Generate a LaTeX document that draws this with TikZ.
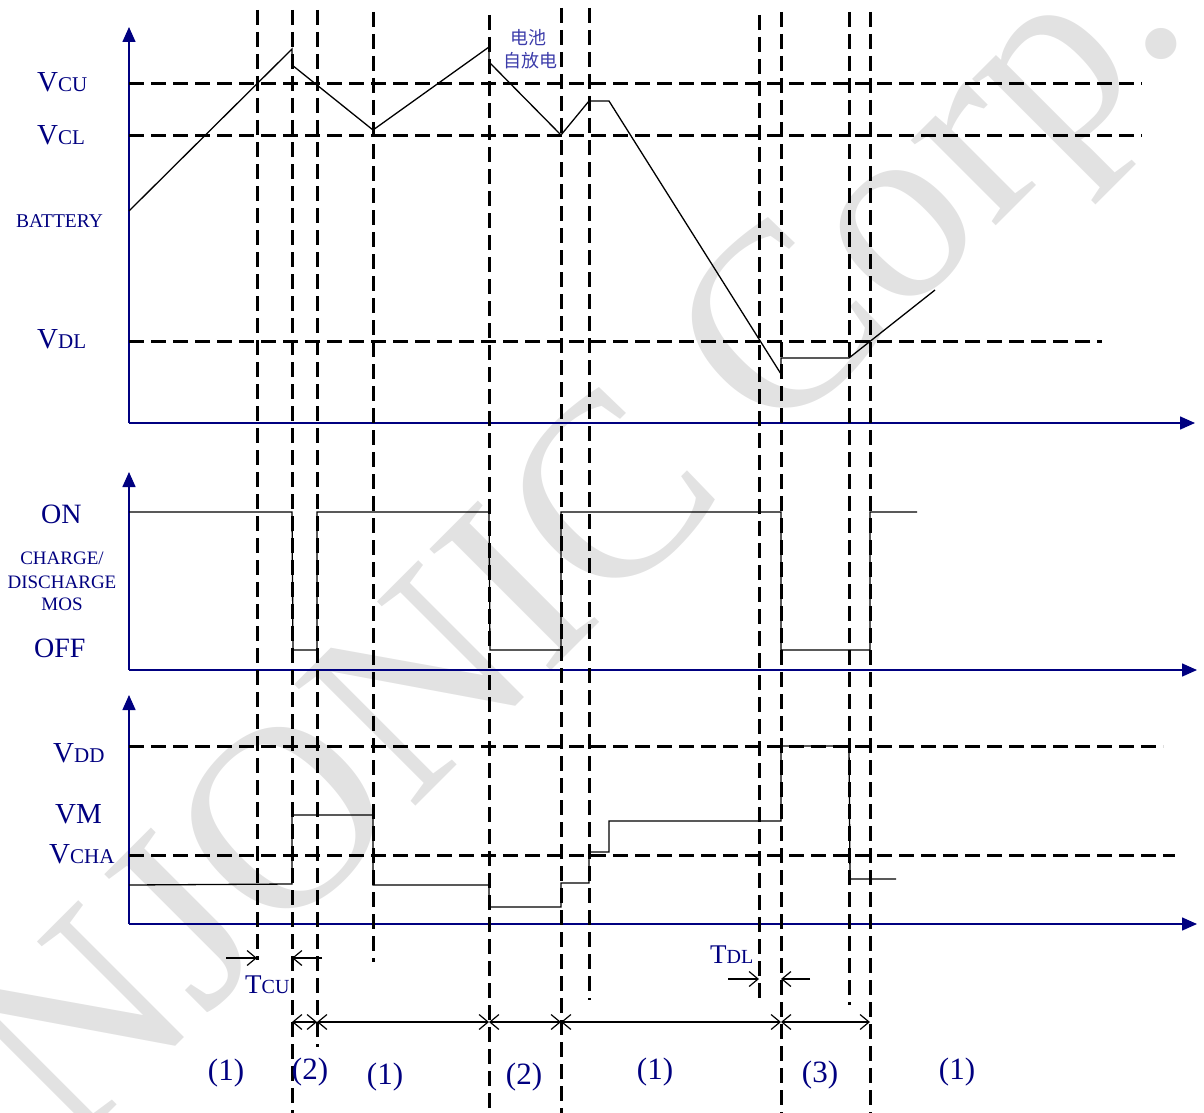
\documentclass[tikz,border=0pt]{standalone}
\usepackage{fontspec}
\setmainfont{Liberation Serif}
\newfontfamily\cjk{Noto Sans CJK SC}
\usetikzlibrary{arrows.meta}
\definecolor{lbl}{RGB}{0,0,128}
\definecolor{cn}{RGB}{60,60,170}
\definecolor{wm}{RGB}{226,226,226}
\newcommand\bigsmall[2]{{\fontsize{29}{30}\selectfont #1}{\fontsize{21}{22}\selectfont #2}}
\newcommand\tsmall[2]{{\fontsize{27}{28}\selectfont #1}{\fontsize{20}{21}\selectfont #2}}
\begin{document}
\begin{tikzpicture}[x=1pt,y=-1pt,
  axis/.style={draw=lbl, line width=1.5pt, -{Triangle[length=15pt,width=13pt]}},
  dline/.style={line width=3pt, dash pattern=on 15pt off 7pt},
  wave/.style={line width=1.3pt, line join=miter},
  lab/.style={text=lbl, inner sep=0pt, anchor=base west},
  small/.style={text=lbl, inner sep=0pt, anchor=base, font=\fontsize{19}{20}\selectfont},
  region/.style={text=lbl, inner sep=0pt, anchor=center, font=\fontsize{31}{32}\selectfont},
  cnlab/.style={text=cn, inner sep=0pt, anchor=base, font=\cjk\fontsize{18}{20}\selectfont},
  tarrow/.style={line width=1.2pt, -{Straight Barb[length=9pt,width=15pt]}},
  barb/.style={line width=1.2pt, {Straight Barb[length=9pt,width=15pt]}-{Straight Barb[length=9pt,width=15pt]}}
]
\useasboundingbox (0,0) rectangle (1204,1113);

% watermark
\node[rotate=45, anchor=base east, text=wm, inner sep=0pt,
      font=\fontsize{262}{262}\selectfont] (wmark) at (1193,29) {NJONIC Corp.};

% ---------- axes ----------
\coordinate (o1) at (129,423);
\coordinate (y1) at (129,27);
\coordinate (x1) at (1195,423);
\coordinate (o2) at (129,670);
\coordinate (y2) at (129,472);
\coordinate (x2) at (1197,670);
\coordinate (o3) at (129,924);
\coordinate (y3) at (129,695);
\coordinate (x3) at (1197,924);
\draw[axis] (o1) -- (y1);
\draw[axis] (o1) -- (x1);
\draw[axis] (o2) -- (y2);
\draw[axis] (o2) -- (x2);
\draw[axis] (o3) -- (y3);
\draw[axis] (o3) -- (x3);

% ---------- horizontal dashed levels ----------
\draw[dline] (129,84) -- (1142,84);
\draw[dline] (129,136) -- (1142,136);
\draw[dline] (129,341) -- (1102,341);
\draw[dline] (129,746) -- (1163,746);
\draw[dline] (129,855) -- (1175,855);

% ---------- vertical dashed markers ----------
\foreach \x/\a/\b in {257/10/960, 292/10/1113, 317/10/1047, 373/12/962,
                      489/15/1113, 561/8/1113, 589/8/1000, 759/15/1000,
                      781/12/1113, 849/12/1005, 870/12/1113}
  \draw[dline] (\x,\a) -- (\x,\b);

% ---------- battery waveform ----------
\draw[wave] (129,211) -- (292,49) -- (292,65) -- (373,130) -- (489,47) -- (489,62)
  -- (561,135) -- (589,101) -- (609,101) -- (781,374) -- (781,358) -- (849,358) -- (935,290);

% ---------- MOS waveform ----------
\draw[wave] (129,512) -- (292,512) -- (293,650) -- (317,650) -- (317,512) -- (489,512)
  -- (490,650) -- (561,650) -- (561,512) -- (781,512) -- (781,650) -- (870,650)
  -- (870,512) -- (917,512);

% ---------- VM waveform ----------
\draw[wave] (129,885) -- (292,884) -- (292,815) -- (373,815) -- (373,885) -- (489,885)
  -- (489,907) -- (561,907) -- (561,883) -- (589,883) -- (589,852) -- (609,852)
  -- (609,821) -- (781,821) -- (781,746) -- (849,746) -- (850,879) -- (896,879);

% ---------- labels ----------
\node[lab] (vcu) at (37,92) {\bigsmall{V}{CU}};
\node[lab] (vcl) at (37,144) {\bigsmall{V}{CL}};
\node[lab, font=\fontsize{19.5}{20}\selectfont] (bat) at (16,227) {BATTERY};
\node[lab] (vdl) at (37,348) {\bigsmall{V}{DL}};

\node[lab, font=\fontsize{28}{30}\selectfont] (on) at (41,523) {ON};
\node[small] (ch1) at (62,564) {CHARGE/};
\node[small] (ch2) at (62,588) {DISCHARGE};
\node[small] (ch3) at (62,610) {MOS};
\node[lab, font=\fontsize{28}{30}\selectfont] (off) at (34,657) {OFF};

\node[lab] (vdd) at (53,762) {\bigsmall{V}{DD}};
\node[lab, font=\fontsize{29}{30}\selectfont] (vm) at (55,823) {VM};
\node[lab] (vcha) at (49,863) {\bigsmall{V}{CHA}};

\node[cnlab] (cn1) at (528,45) {电池};
\node[cnlab] (cn2) at (530,68) {自放电};

% ---------- timing annotations ----------
\coordinate (tcuA) at (226,958);
\coordinate (tcuB) at (257,958);
\coordinate (tcuC) at (322,958);
\coordinate (tcuD) at (292,958);
\draw[tarrow] (tcuA) -- (tcuB);
\draw[tarrow] (tcuC) -- (tcuD);
\node[lab] (tcu) at (245,993) {\tsmall{T}{CU}};

\coordinate (tdlA) at (728,979);
\coordinate (tdlB) at (759,979);
\coordinate (tdlC) at (810,979);
\coordinate (tdlD) at (781,979);
\draw[tarrow] (tdlA) -- (tdlB);
\draw[tarrow] (tdlC) -- (tdlD);
\node[lab] (tdl) at (710,963) {\tsmall{T}{DL}};

\coordinate (p1) at (292,1022);
\coordinate (p2) at (317,1022);
\coordinate (p3) at (489,1022);
\coordinate (p4) at (561,1022);
\coordinate (p5) at (781,1022);
\coordinate (p6) at (870,1022);
\draw[barb] (p1) -- (p2);
\draw[barb] (p2) -- (p3);
\draw[barb] (p3) -- (p4);
\draw[barb] (p4) -- (p5);
\draw[barb] (p5) -- (p6);

\node[region] (r1) at (226,1073) {(1)};
\node[region] (r2) at (310,1072) {(2)};
\node[region] (r3) at (385,1077) {(1)};
\node[region] (r4) at (524,1077) {(2)};
\node[region] (r5) at (655,1072) {(1)};
\node[region] (r6) at (820,1075) {(3)};
\node[region] (r7) at (957,1072) {(1)};
\end{tikzpicture}
\end{document}
